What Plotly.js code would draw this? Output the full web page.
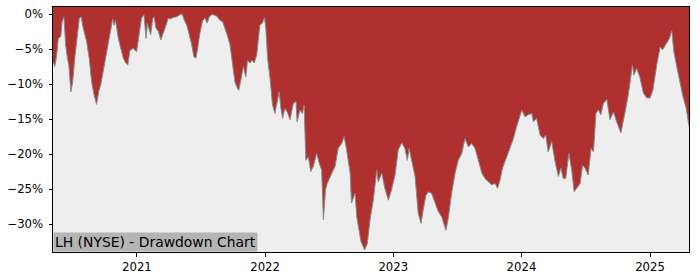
<!DOCTYPE html>
<html>
<head>
<meta charset="utf-8">
<script src="https://cdn.plot.ly/plotly-3.0.1.min.js"></script>
<style>html,body{margin:0;padding:0;background:#fff;}#chart{width:700px;height:280px;}</style>
</head>
<body>
<div id="chart"></div>
<script>
// Drawdown (%) of LH (NYSE)
const dates = [
"2020-05-07","2020-05-12","2020-05-17","2020-05-22","2020-05-29","2020-06-02","2020-06-07","2020-06-12","2020-06-17","2020-06-21",
"2020-06-27","2020-07-02","2020-07-08","2020-07-15","2020-07-21","2020-07-26","2020-08-01","2020-08-11","2020-08-18","2020-08-25",
"2020-09-01","2020-09-08","2020-09-15","2020-09-20","2020-09-25","2020-10-02","2020-10-08","2020-10-16","2020-10-24","2020-10-28",
"2020-11-01","2020-11-09","2020-11-16","2020-11-23","2020-11-30","2020-12-06","2020-12-12","2020-12-21","2020-12-31","2021-01-08",
"2021-01-14","2021-01-21","2021-01-27","2021-01-31","2021-02-05","2021-02-09","2021-02-15","2021-02-19","2021-02-24","2021-03-03",
"2021-03-10","2021-03-17","2021-03-25","2021-03-31","2021-04-07","2021-04-14","2021-04-24","2021-05-03","2021-05-10","2021-05-16",
"2021-05-23","2021-05-29","2021-06-06","2021-06-12","2021-06-18","2021-06-23","2021-06-29","2021-07-07","2021-07-14","2021-07-20",
"2021-07-26","2021-08-02","2021-08-06","2021-08-16","2021-08-25","2021-09-02","2021-09-09","2021-09-15","2021-09-23","2021-10-01",
"2021-10-07","2021-10-14","2021-10-18","2021-10-24","2021-10-31","2021-11-07","2021-11-12","2021-11-19","2021-11-25","2021-12-01",
"2021-12-08","2021-12-12","2021-12-17","2021-12-24","2021-12-30","2022-01-03","2022-01-08","2022-01-15","2022-01-22","2022-01-29",
"2022-02-05","2022-02-10","2022-02-15","2022-02-20","2022-02-26","2022-03-05","2022-03-13","2022-03-22","2022-03-30","2022-04-02",
"2022-04-10","2022-04-17","2022-04-22","2022-04-27","2022-05-04","2022-05-11","2022-05-18","2022-05-28","2022-06-04","2022-06-11",
"2022-06-16","2022-06-22","2022-06-27","2022-07-05","2022-07-12","2022-07-19","2022-07-28","2022-08-07","2022-08-14","2022-08-21",
"2022-08-31","2022-09-04","2022-09-14","2022-09-19","2022-09-25","2022-10-01","2022-10-07","2022-10-11","2022-10-19","2022-10-27",
"2022-11-05","2022-11-15","2022-11-19","2022-11-29","2022-12-08","2022-12-18","2022-12-27","2023-01-06","2023-01-15","2023-01-25",
"2023-02-03","2023-02-10","2023-02-15","2023-02-22","2023-03-04","2023-03-13","2023-03-21","2023-03-27","2023-04-04","2023-04-11",
"2023-04-20","2023-04-30","2023-05-09","2023-05-19","2023-05-31","2023-06-07","2023-06-16","2023-06-26","2023-07-05","2023-07-15",
"2023-07-24","2023-08-03","2023-08-12","2023-08-22","2023-08-31","2023-09-10","2023-09-19","2023-09-29","2023-10-08","2023-10-18",
"2023-10-25","2023-11-01","2023-11-08","2023-11-20","2023-11-29","2023-12-09","2023-12-18","2023-12-28","2024-01-02","2024-01-11",
"2024-01-20","2024-01-30","2024-02-04","2024-02-13","2024-02-23","2024-03-03","2024-03-10","2024-03-17","2024-03-27","2024-04-05",
"2024-04-15","2024-04-22","2024-04-29","2024-05-06","2024-05-15","2024-05-23","2024-05-30","2024-06-06","2024-06-16","2024-06-23",
"2024-06-30","2024-07-09","2024-07-17","2024-07-24","2024-07-31","2024-08-07","2024-08-14","2024-08-21","2024-08-31","2024-09-09",
"2024-09-19","2024-09-28","2024-10-10","2024-10-22","2024-10-31","2024-11-12","2024-11-16","2024-11-24","2024-12-03","2024-12-13",
"2024-12-23","2025-01-01","2025-01-09","2025-01-20","2025-01-30","2025-02-06","2025-02-16","2025-02-25","2025-03-04","2025-03-10",
"2025-03-18","2025-03-27","2025-04-04","2025-04-14","2025-04-20","2025-04-22"
];
const drawdown = [
-6.8,-7.5,-6.1,-3.5,-3.2,-1.1,-0.4,-4.4,-6.3,-7.3,
-11.1,-9.7,-6.3,-3.5,-0.6,-0.4,-2.0,-4.0,-6.3,-9.7,
-11.6,-12.9,-10.9,-10.1,-8.7,-6.8,-4.9,-2.5,-0.7,-1.6,
-0.9,-3.5,-5.1,-6.3,-7.0,-7.3,-5.2,-4.9,-5.4,-2.5,
-0.6,-0.1,-3.5,-1.3,-2.3,-3.0,-0.6,-0.4,-2.0,-2.5,
-3.7,-2.8,-1.6,-0.6,-0.7,-0.5,-0.4,-0.1,0.0,-0.9,
-1.6,-2.8,-4.4,-6.1,-6.3,-4.9,-2.8,-0.9,-0.6,-1.3,
-0.4,-0.1,-0.1,-0.3,-0.9,-1.1,-2.0,-3.0,-4.4,-7.3,
-9.7,-10.6,-10.9,-9.4,-7.5,-9.0,-6.6,-7.0,-6.6,-7.0,
-5.9,-4.0,-1.6,-1.3,-0.5,-2.0,-6.3,-9.2,-13.0,-14.2,
-12.5,-11.1,-13.5,-14.9,-13.5,-14.0,-15.1,-12.8,-12.5,-15.4,
-13.7,-14.2,-13.0,-20.9,-20.4,-22.5,-21.8,-19.9,-21.3,-22.3,
-29.4,-25.1,-24.2,-23.2,-22.5,-21.8,-19.2,-18.5,-17.5,-19.4,
-22.7,-27.0,-25.6,-29.0,-30.9,-32.5,-33.2,-33.7,-32.8,-29.3,
-26.6,-22.3,-24.0,-22.7,-24.9,-26.6,-25.1,-23.0,-19.4,-18.4,
-19.2,-20.9,-19.2,-20.9,-23.2,-28.5,-29.9,-28.0,-25.9,-25.4,
-25.6,-27.0,-28.2,-29.0,-30.9,-29.0,-25.6,-22.7,-20.9,-19.9,
-17.8,-19.0,-18.5,-19.2,-20.9,-22.7,-23.5,-24.0,-24.4,-24.2,
-24.9,-23.7,-22.0,-20.4,-19.2,-17.8,-16.1,-14.4,-13.7,-14.7,
-14.4,-14.2,-15.4,-14.9,-17.3,-17.8,-17.3,-19.7,-18.2,-20.9,
-23.2,-22.0,-23.5,-23.5,-19.9,-22.3,-25.4,-24.9,-24.2,-21.6,
-22.0,-23.0,-19.2,-19.7,-14.2,-13.7,-14.4,-12.8,-12.2,-15.1,
-14.0,-15.4,-17.0,-14.0,-11.6,-7.3,-8.7,-7.8,-9.0,-11.3,
-12.0,-12.0,-10.9,-7.3,-4.7,-5.1,-4.2,-3.5,-2.4,-5.4,
-7.5,-9.7,-11.6,-13.5,-15.6,-16.0
];
const yTickVals = [0, -5, -10, -15, -20, -25, -30];
const xTickVals = ["2021-01-01", "2022-01-01", "2023-01-01", "2024-01-01", "2025-01-01"];
const xTickText = ["2021", "2022", "2023", "2024", "2025"];
const yRange = [-34, 1];
const chartTitle = "LH (NYSE) - Drawdown Chart";

const yTickText = yTickVals.map(v => (v < 0 ? "\u2212" : "") + Math.abs(v) + "%");
const FONT = "DejaVu Sans, sans-serif";

const traces = [
  { x: dates, y: dates.map(() => yRange[1]), type: "scatter", mode: "lines",
    line: { width: 0, color: "rgba(0,0,0,0)" }, hoverinfo: "skip", showlegend: false },
  { x: dates, y: drawdown, type: "scatter", mode: "lines", fill: "tonexty",
    fillcolor: "#b03030", line: { color: "#8a8a8a", width: 1 }, showlegend: false }
];

const layout = {
  width: 700, height: 280,
  margin: { l: 53, r: 11, t: 7, b: 28 },
  paper_bgcolor: "#ffffff",
  plot_bgcolor: "#eeeeee",
  font: { family: FONT, size: 11.7, color: "#000" },
  showlegend: false,
  xaxis: {
    type: "date", range: [dates[0], dates[dates.length - 1]],
    tickvals: xTickVals, ticktext: xTickText,
    ticks: "outside", ticklen: 3.5, tickwidth: 1, tickcolor: "#000",
    showline: true, linecolor: "#000", linewidth: 1, mirror: true,
    showgrid: false, zeroline: false, fixedrange: true,
    tickfont: { family: FONT, size: 11.7, color: "#000" }
  },
  yaxis: {
    range: yRange, tickvals: yTickVals, ticktext: yTickText,
    ticks: "outside", ticklen: 3.5, tickwidth: 1, tickcolor: "#000",
    showline: true, linecolor: "#000", linewidth: 1, mirror: true,
    showgrid: false, zeroline: false, fixedrange: true,
    ticklabelstandoff: 3,
    tickfont: { family: FONT, size: 11.7, color: "#000" }
  },
  annotations: [{
    text: chartTitle, xref: "paper", yref: "paper", x: 0, y: 0,
    xanchor: "left", yanchor: "bottom", showarrow: false,
    bgcolor: "#b4b4b4", borderpad: 1,
    font: { family: FONT, size: 13.9, color: "#000" }
  }]
};

Plotly.newPlot("chart", traces, layout, { staticPlot: true, displayModeBar: false });
</script>
</body>
</html>
